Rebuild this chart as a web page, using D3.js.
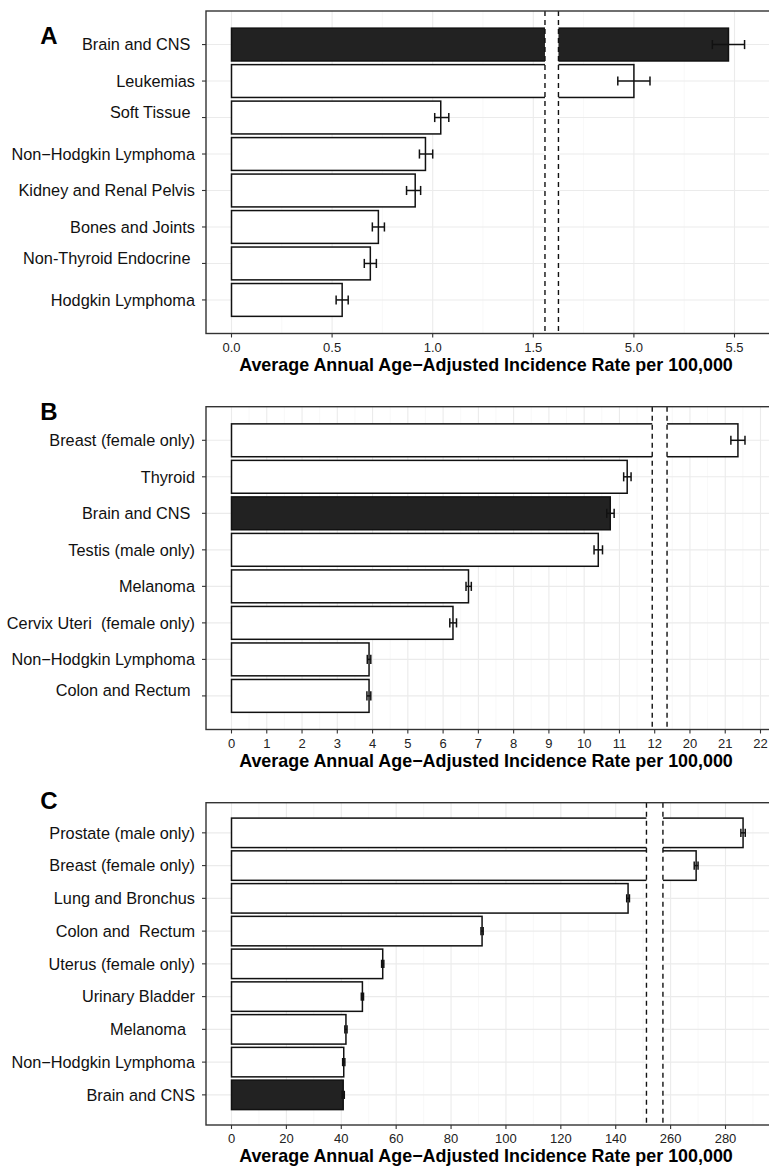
<!DOCTYPE html>
<html>
<head>
    <script src="https://d3js.org/d3.v7.min.js"></script>
</head>

<style>
body {
    margin: 0;
    background: #fff;
}
svg text {
    font-family: "Liberation Sans", Arial, sans-serif;
    white-space: pre;
}
</style>

<body>

<div id="chart"></div>

<script>
    // Panel A - top sites, ages 0-14
    var catsA = ["Brain and CNS ", "Leukemias", "Soft Tissue \n", "Non\u2212Hodgkin Lymphoma",
                 "Kidney and Renal Pelvis", "Bones and Joints", "Non-Thyroid Endocrine \n", "Hodgkin Lymphoma"];
    var rateA = [5.47, 5.00, 1.04, 0.964, 0.913, 0.73, 0.69, 0.55];
    var lowA  = [5.39, 4.92, 1.01, 0.934, 0.87, 0.70, 0.66, 0.52];
    var highA = [5.55, 5.08, 1.08, 1.00, 0.94, 0.76, 0.72, 0.58];
    var ticksA = [0, 0.5, 1.0, 1.5, 5.0, 5.5];

    // Panel B
    var catsB = ["Breast (female only)", "Thyroid", "Brain and CNS ", "Testis (male only)", "Melanoma",
                 "Cervix Uteri  (female only)", "Non\u2212Hodgkin Lymphoma", "Colon and Rectum \n"];
    var rateB = [21.36, 11.22, 10.74, 10.40, 6.72, 6.28, 3.90, 3.90];
    var lowB  = [21.16, 11.12, 10.64, 10.28, 6.65, 6.19, 3.85, 3.84];
    var highB = [21.56, 11.33, 10.85, 10.52, 6.80, 6.38, 3.95, 3.95];
    var ticksB = [0, 1, 2, 3, 4, 5, 6, 7, 8, 9, 10, 11, 12, 20, 21, 22];

    // Panel C
    var catsC = ["Prostate (male only)", "Breast (female only)", "Lung and Bronchus", "Colon and  Rectum",
                 "Uterus (female only)", "Urinary Bladder", "Melanoma  ", "Non\u2212Hodgkin Lymphoma", "Brain and CNS"];
    var rateC = [286.4, 269.3, 144.5, 91.3, 55.1, 47.7, 41.7, 40.9, 40.7];
    var lowC  = [285.6, 268.6, 144.0, 90.9, 54.7, 47.3, 41.3, 40.5, 40.3];
    var highC = [287.2, 270.0, 145.0, 91.7, 55.5, 48.1, 42.1, 41.3, 41.1];
    var ticksC = [0, 20, 40, 60, 80, 100, 120, 140, 260, 280];

    var xTitle = "Average Annual Age\u2212Adjusted Incidence Rate per 100,000";

    var width = 769, height = 1168;

    var svg = d3.select("#chart")
        .append("svg")
        .attr("width", width)
        .attr("height", height);

    // one panel = one broken-axis horizontal bar chart
    function drawPanel(p) {
        // values above "cut" are pulled left by "shift" (axis break)
        var disp = v => v > p.cut ? v - p.shift : v;

        var x = d3.scaleLinear().domain([0, p.dmax]).range([231.5, p.pxmax]);
        var y = d3.scalePoint().domain(p.cats).range([p.top, p.bottom]).padding(0.92);
        var step = y.step();
        var left = 206, right = 776;

        var g = svg.append("g");

        // grid
        var dt = p.ticks.map(disp);
        var minor = [];
        for (var i = 0; i < dt.length; i++) {
            var nxt = i < dt.length - 1 ? dt[i + 1] : dt[i] + (dt[i] - dt[i - 1]);
            minor.push((dt[i] + nxt) / 2);
        }
        g.selectAll(".minor").data(minor.filter(d => x(d) < right)).enter().append("line")
            .attr("x1", d => x(d)).attr("x2", d => x(d))
            .attr("y1", p.top).attr("y2", p.bottom)
            .style("stroke", "#f3f3f3").style("stroke-width", 0.6);
        g.selectAll(".major").data(dt).enter().append("line")
            .attr("x1", d => x(d)).attr("x2", d => x(d))
            .attr("y1", p.top).attr("y2", p.bottom)
            .style("stroke", "#ebebeb").style("stroke-width", 1.1);
        g.selectAll(".hgrid").data(p.cats).enter().append("line")
            .attr("x1", left).attr("x2", right)
            .attr("y1", d => y(d)).attr("y2", d => y(d))
            .style("stroke", "#ebebeb").style("stroke-width", 1.1);

        // bars
        g.selectAll(".bar").data(p.cats).enter().append("rect")
            .attr("x", x(0))
            .attr("y", d => y(d) - step * 0.45)
            .attr("width", (d, i) => x(disp(p.rate[i])) - x(0))
            .attr("height", step * 0.9)
            .style("fill", d => d.indexOf("Brain") === 0 ? "#222222" : "#ffffff")
            .style("stroke", "#111")
            .style("stroke-width", 1.5);

        // error bars
        var eb = g.selectAll(".err").data(p.cats).enter().append("g")
            .style("stroke", "#111").style("stroke-width", 1.5);
        var cap = step * 0.125;
        eb.append("line")
            .attr("x1", (d, i) => x(disp(p.low[i]))).attr("x2", (d, i) => x(disp(p.high[i])))
            .attr("y1", d => y(d)).attr("y2", d => y(d));
        eb.append("line")
            .attr("x1", (d, i) => x(disp(p.low[i]))).attr("x2", (d, i) => x(disp(p.low[i])))
            .attr("y1", d => y(d) - cap).attr("y2", d => y(d) + cap);
        eb.append("line")
            .attr("x1", (d, i) => x(disp(p.high[i]))).attr("x2", (d, i) => x(disp(p.high[i])))
            .attr("y1", d => y(d) - cap).attr("y2", d => y(d) + cap);

        // axis break: white gap with dashed edges
        g.append("rect")
            .attr("x", x(p.gap[0])).attr("y", p.top)
            .attr("width", x(p.gap[1]) - x(p.gap[0])).attr("height", p.bottom - p.top)
            .style("fill", "#fff");
        g.selectAll(".dash").data(p.gap).enter().append("line")
            .attr("x1", d => x(d)).attr("x2", d => x(d))
            .attr("y1", p.top).attr("y2", p.bottom)
            .style("stroke", "#111").style("stroke-width", 1.4)
            .style("stroke-dasharray", "5,4");

        // panel border
        g.append("rect")
            .attr("x", left).attr("y", p.top)
            .attr("width", right - left).attr("height", p.bottom - p.top)
            .style("fill", "none").style("stroke", "#333").style("stroke-width", 1.4);

        // x axis ticks
        var xt = g.selectAll(".xt").data(p.ticks).enter().append("g")
            .attr("transform", d => "translate(" + x(disp(d)) + "," + p.bottom + ")");
        xt.append("line").attr("y1", 0).attr("y2", 4)
            .style("stroke", "#333").style("stroke-width", 1.1);
        xt.append("text")
            .attr("y", 18.3)
            .attr("text-anchor", "middle")
            .attr("font-size", "13px")
            .attr("fill", "#222")
            .text(d => p.fmt(d));

        // y axis ticks and labels
        var yt = g.selectAll(".yt").data(p.cats).enter().append("g")
            .attr("transform", d => "translate(" + left + "," + y(d) + ")");
        yt.append("line").attr("x1", -4).attr("x2", 0)
            .style("stroke", "#333").style("stroke-width", 1.1);
        yt.append("text")
            .attr("x", -11)
            .attr("dy", d => (0.36 - (d.split("\n").length - 1) * 0.34) + "em")
            .attr("text-anchor", "end")
            .attr("font-size", "16.3px")
            .attr("fill", "#111")
            .text(d => d.split("\n")[0]);

        // axis title
        g.append("text")
            .attr("x", 486)
            .attr("y", p.bottom + 37)
            .attr("text-anchor", "middle")
            .attr("font-size", "17.9px")
            .attr("font-weight", "bold")
            .attr("fill", "#000")
            .text(xTitle);

        // panel letter
        g.append("text")
            .attr("x", 49)
            .attr("y", p.letterY)
            .attr("text-anchor", "middle")
            .attr("font-size", "24px")
            .attr("font-weight", "bold")
            .text(p.letter);
    }

    drawPanel({letter: "A", letterY: 44, top: 11, bottom: 333.5,
               cats: catsA, rate: rateA, low: lowA, high: highA, ticks: ticksA,
               cut: 2, shift: 3, dmax: 2.5, pxmax: 734.5, gap: [1.558, 1.625],
               fmt: d3.format(".1f")});

    drawPanel({letter: "B", letterY: 420, top: 406.7, bottom: 729.5,
               cats: catsB, rate: rateB, low: lowB, high: highB, ticks: ticksB,
               cut: 15, shift: 7, dmax: 15, pxmax: 760.5, gap: [11.93, 12.35],
               fmt: d3.format("d")});

    drawPanel({letter: "C", letterY: 809, top: 802.7, bottom: 1125,
               cats: catsC, rate: rateC, low: lowC, high: highC, ticks: ticksC,
               cut: 200, shift: 100, dmax: 180, pxmax: 725.5, gap: [151.2, 157.2],
               fmt: d3.format("d")});
</script>
</body>
</html>
